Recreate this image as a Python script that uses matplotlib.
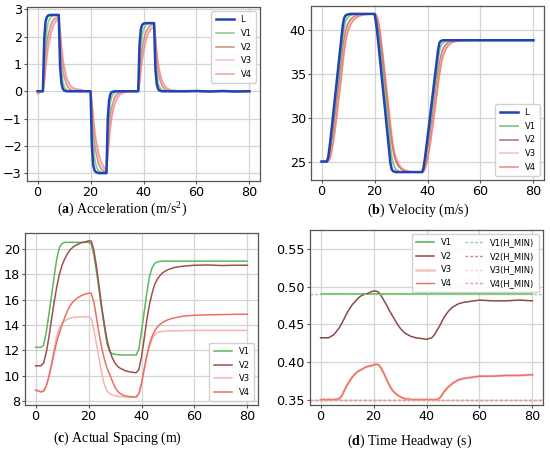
import matplotlib
matplotlib.use("Agg")
import matplotlib.pyplot as plt
from matplotlib.ticker import MultipleLocator

plt.rcParams['font.family'] = ['DejaVu Sans']
plt.rcParams['mathtext.fontset'] = 'custom'
plt.rcParams['mathtext.rm'] = 'Liberation Serif'
plt.rcParams['mathtext.bf'] = 'Liberation Serif:bold'

# ---------------- data: acceleration / velocity time base ----------------
time_av = [0, 1, 2, 2.5, 3, 3.5, 4, 5, 6, 7, 8,
           8.5, 9, 9.5, 10, 11, 12, 13, 14, 15, 16, 18, 20,
           20.5, 21, 21.5, 22, 23, 24, 25, 26,
           26.5, 27, 27.5, 28, 29, 30, 31, 32, 33, 34, 36, 38,
           38.5, 39, 39.5, 40, 41, 42, 43, 44,
           44.5, 45, 45.5, 46, 47, 48, 49, 50, 51, 52, 54, 56, 60, 65, 70, 75, 80]

acc_L = [0, 0, 0, 1.9, 2.55, 2.72, 2.78, 2.8, 2.8, 2.8, 2.8,
         0.9, 0.3, 0.1, 0.03, 0, 0, 0, 0, 0, 0, 0, 0,
         -2.0, -2.7, -2.9, -2.96, -3.0, -3.0, -3.0, -3.0,
         -1.0, -0.33, -0.1, -0.03, 0, 0, 0, 0, 0, 0, 0, 0,
         1.7, 2.27, 2.43, 2.48, 2.5, 2.5, 2.5, 2.5,
         0.8, 0.27, 0.09, 0.03, 0, 0, 0, 0, 0, 0, 0, 0, 0.01, -0.01, 0.01, -0.01, 0]
acc_V1 = [0, 0, 0, 0.7, 1.7, 2.25, 2.52, 2.72, 2.77, 2.79, 2.8,
          1.7, 0.8, 0.38, 0.18, 0.04, 0.01, 0, 0, 0, 0, 0, 0,
          -0.75, -1.8, -2.4, -2.7, -2.92, -2.97, -2.99, -3.0,
          -1.9, -0.9, -0.42, -0.2, -0.05, -0.01, 0, 0, 0, 0, 0, 0,
          0.65, 1.55, 2.02, 2.27, 2.44, 2.48, 2.5, 2.5,
          1.55, 0.72, 0.34, 0.16, 0.04, 0.01, 0, 0, 0, 0, 0, 0, 0, 0, 0, 0, 0]
acc_V2 = [0, 0, 0, 0.45, 1.15, 1.7, 2.05, 2.45, 2.63, 2.7, 2.73,
          2.1, 1.35, 0.85, 0.55, 0.22, 0.09, 0.04, 0.02, 0.01, 0, 0, 0,
          -0.5, -1.25, -1.8, -2.2, -2.65, -2.85, -2.93, -2.96,
          -2.3, -1.45, -0.92, -0.6, -0.24, -0.1, -0.04, -0.02, 0, 0, 0, 0,
          0.42, 1.05, 1.5, 1.82, 2.2, 2.37, 2.44, 2.46,
          1.9, 1.2, 0.78, 0.5, 0.2, 0.08, 0.03, 0.01, 0, 0, 0, 0, 0, 0, 0, 0, 0]
acc_V3 = [-0.05, 0, 0, 0.35, 0.95, 1.45, 1.8, 2.3, 2.55, 2.66, 2.7,
          2.2, 1.55, 1.08, 0.75, 0.36, 0.17, 0.09, 0.06, 0.05, 0.04, 0.01, 0,
          -0.4, -1.05, -1.55, -1.95, -2.45, -2.72, -2.86, -2.93,
          -2.4, -1.7, -1.15, -0.8, -0.38, -0.18, -0.08, -0.04, -0.02, 0, 0, 0,
          0.33, 0.88, 1.3, 1.62, 2.05, 2.28, 2.39, 2.43,
          1.98, 1.38, 0.95, 0.65, 0.3, 0.14, 0.07, 0.04, 0.02, 0.01, 0, 0, 0, 0, 0, 0, 0]
acc_V4 = [-0.1, -0.03, 0, 0.28, 0.78, 1.22, 1.58, 2.1, 2.42, 2.58, 2.65,
          2.25, 1.7, 1.25, 0.92, 0.5, 0.27, 0.15, 0.1, 0.08, 0.07, 0.02, 0,
          -0.33, -0.9, -1.35, -1.72, -2.25, -2.57, -2.77, -2.9,
          -2.45, -1.85, -1.35, -0.98, -0.52, -0.27, -0.14, -0.07, -0.04, -0.02, 0, 0,
          0.27, 0.74, 1.12, 1.45, 1.88, 2.15, 2.3, 2.37,
          2.0, 1.48, 1.08, 0.78, 0.4, 0.2, 0.11, 0.06, 0.04, 0.03, 0.01, 0, 0, 0, 0, 0, 0]

vel_L = [25, 25, 25, 25.5, 26.6, 27.9, 29.3, 32.1, 34.9, 37.7, 40.5,
         41.3, 41.6, 41.7, 41.75, 41.8, 41.8, 41.8, 41.8, 41.8, 41.8, 41.8, 41.8,
         40.9, 39.7, 38.3, 36.8, 33.8, 30.8, 27.8, 24.8,
         24.1, 23.9, 23.85, 23.8, 23.8, 23.8, 23.8, 23.8, 23.8, 23.8, 23.8, 23.8,
         24.3, 25.3, 26.5, 27.7, 30.2, 32.7, 35.2, 37.7,
         38.5, 38.7, 38.77, 38.8, 38.8, 38.8, 38.8, 38.8, 38.8, 38.8, 38.8, 38.8, 38.8, 38.8, 38.8, 38.8, 38.8]
vel_V1 = [25, 25, 25, 25.2, 25.8, 26.8, 28.0, 30.7, 33.5, 36.3, 39.1,
          40.2, 40.9, 41.2, 41.45, 41.65, 41.75, 41.8, 41.8, 41.8, 41.8, 41.8, 41.8,
          41.6, 40.9, 39.8, 38.5, 35.7, 32.8, 29.8, 26.8,
          25.5, 24.8, 24.4, 24.1, 23.9, 23.85, 23.8, 23.8, 23.8, 23.8, 23.8, 23.8,
          24.0, 24.6, 25.5, 26.6, 29.0, 31.5, 34.0, 36.5,
          37.5, 38.1, 38.4, 38.55, 38.72, 38.78, 38.8, 38.8, 38.8, 38.8, 38.8, 38.8, 38.8, 38.8, 38.8, 38.8, 38.8]
vel_V2 = [25, 25, 25, 25.1, 25.5, 26.2, 27.2, 29.5, 32.1, 34.8, 37.5,
          38.8, 39.7, 40.3, 40.7, 41.2, 41.45, 41.6, 41.7, 41.75, 41.78, 41.8, 41.8,
          41.7, 41.3, 40.5, 39.5, 37.0, 34.3, 31.5, 28.6,
          27.3, 26.3, 25.6, 25.1, 24.5, 24.2, 24.0, 23.9, 23.85, 23.82, 23.8, 23.8,
          23.9, 24.3, 25.0, 25.8, 27.9, 30.2, 32.6, 35.0,
          36.1, 36.9, 37.5, 37.9, 38.35, 38.6, 38.7, 38.75, 38.78, 38.8, 38.8, 38.8, 38.8, 38.8, 38.8, 38.8, 38.8]
vel_V3 = [25, 25, 25, 25.05, 25.4, 25.9, 26.8, 28.9, 31.4, 34.0, 36.7,
          38.0, 39.0, 39.8, 40.3, 40.95, 41.3, 41.5, 41.62, 41.7, 41.75, 41.8, 41.8,
          41.72, 41.4, 40.8, 39.9, 37.6, 35.0, 32.3, 29.4,
          28.1, 27.0, 26.2, 25.6, 24.9, 24.4, 24.15, 24.0, 23.9, 23.85, 23.8, 23.8,
          23.88, 24.2, 24.8, 25.5, 27.4, 29.6, 32.0, 34.3,
          35.4, 36.3, 37.0, 37.5, 38.1, 38.45, 38.6, 38.7, 38.74, 38.77, 38.8, 38.8, 38.8, 38.8, 38.8, 38.8, 38.8]
vel_V4 = [25, 25, 25, 25.03, 25.25, 25.7, 26.4, 28.3, 30.7, 33.3, 36.0,
          37.3, 38.4, 39.2, 39.8, 40.6, 41.05, 41.35, 41.52, 41.62, 41.7, 41.77, 41.8,
          41.75, 41.45, 40.8, 39.9, 37.4, 34.6, 31.8, 29.0,
          27.7, 26.7, 25.9, 25.3, 24.6, 24.2, 24.0, 23.9, 23.85, 23.82, 23.8, 23.8,
          23.86, 24.1, 24.6, 25.2, 26.9, 29.0, 31.3, 33.6,
          34.8, 35.7, 36.5, 37.1, 37.8, 38.25, 38.5, 38.62, 38.7, 38.74, 38.78, 38.8, 38.8, 38.8, 38.8, 38.8, 38.8]

# ---------------- data: spacing ----------------
time_sp = [0, 2, 3, 4, 5, 6, 7, 8, 9, 10,
           11, 12, 13, 14, 15, 16, 17, 18, 19, 20,
           21, 22, 23, 24, 25, 26, 27, 28, 29, 30,
           31, 32, 33, 34, 36, 38,
           39, 40, 41, 42, 43, 44, 45, 46, 47, 48,
           49, 50, 52, 54, 56, 58, 60, 65, 70, 75, 80]
sp_V1 = [12.25, 12.25, 12.4, 13.4, 14.8, 16.3, 17.8, 19.2, 20.1, 20.4,
         20.5, 20.5, 20.5, 20.5, 20.5, 20.5, 20.5, 20.5, 20.5, 20.5,
         20.4, 19.5, 18.2, 16.7, 15.2, 13.8, 12.5, 11.9, 11.75, 11.7,
         11.67, 11.65, 11.65, 11.65, 11.65, 11.65,
         12.1, 13.5, 15.0, 16.5, 17.8, 18.5, 18.85, 18.97, 19.0, 19.02,
         19.02, 19.02, 19.02, 19.02, 19.02, 19.02, 19.02, 19.02, 19.02, 19.02, 19.02]
sp_V2 = [10.8, 10.8, 11.0, 11.8, 13.0, 14.4, 15.8, 17.0, 18.0, 18.7,
         19.2, 19.6, 19.9, 20.1, 20.25, 20.35, 20.45, 20.5, 20.55, 20.62,
         20.6, 19.9, 18.6, 17.0, 15.4, 14.0, 12.8, 12.0, 11.4, 11.0,
         10.75, 10.6, 10.5, 10.4, 10.3, 10.25,
         10.5, 11.5, 12.9, 14.4, 15.6, 16.5, 17.2, 17.6, 17.9, 18.1,
         18.25, 18.35, 18.5, 18.58, 18.63, 18.67, 18.7, 18.72, 18.68, 18.7, 18.7]
sp_V3 = [8.85, 8.75, 8.8, 9.2, 10.0, 11.0, 12.1, 13.1, 13.8, 14.15,
         14.3, 14.45, 14.55, 14.6, 14.62, 14.63, 14.64, 14.65, 14.65, 14.65,
         14.55, 13.6, 12.5, 11.3, 10.2, 9.3, 8.8, 8.6, 8.5, 8.45,
         8.4, 8.37, 8.35, 8.35, 8.33, 8.33,
         8.6, 9.4, 10.5, 11.5, 12.3, 12.9, 13.25, 13.42, 13.47, 13.5,
         13.52, 13.53, 13.55, 13.55, 13.56, 13.57, 13.58, 13.58, 13.58, 13.58, 13.58]
sp_V4 = [8.9, 8.75, 8.8, 9.2, 9.9, 10.8, 11.8, 12.7, 13.4, 14.0,
         14.6, 15.1, 15.5, 15.8, 16.0, 16.15, 16.28, 16.38, 16.45, 16.5,
         16.5, 15.8, 14.6, 13.3, 12.2, 11.3, 10.6, 10.1, 9.6, 9.1,
         8.8, 8.6, 8.5, 8.43, 8.37, 8.35,
         8.6, 9.4, 10.5, 11.6, 12.5, 13.1, 13.55, 13.85, 14.05, 14.2,
         14.32, 14.42, 14.55, 14.63, 14.7, 14.74, 14.77, 14.8, 14.82, 14.84, 14.85]

# ---------------- data: time headway ----------------
time_hw = [0, 3, 5, 7, 8, 9, 10, 11, 12, 13,
           14, 15, 16, 17, 18, 19, 20, 21, 22, 23,
           24, 25, 26, 27, 28, 29, 30, 31, 32, 33,
           34, 36, 38, 40, 42, 43, 44, 45, 46, 47,
           48, 49, 50, 52, 54, 56, 58, 60, 65, 70, 75, 80]
hw_V1 = [0.49] * 10 + [0.49] * 10 + [0.49] * 10 + [0.49] * 10 + [0.49] * 12
hw_V2 = [0.432, 0.432, 0.436, 0.445, 0.451, 0.458, 0.465, 0.471, 0.476, 0.48,
         0.484, 0.487, 0.489, 0.49, 0.491, 0.493, 0.494, 0.494, 0.492, 0.487,
         0.481, 0.475, 0.468, 0.462, 0.456, 0.45, 0.445, 0.441, 0.438, 0.436,
         0.434, 0.432, 0.431, 0.43, 0.432, 0.436, 0.442, 0.448, 0.455, 0.461,
         0.466, 0.47, 0.473, 0.477, 0.479, 0.48, 0.481, 0.482, 0.481, 0.481, 0.482, 0.481]
hw_V3 = [0.35, 0.35, 0.35, 0.351, 0.355, 0.362, 0.369, 0.375, 0.38, 0.384,
         0.387, 0.389, 0.391, 0.393, 0.394, 0.395, 0.396, 0.397, 0.396, 0.391,
         0.384, 0.376, 0.369, 0.363, 0.359, 0.356, 0.354, 0.352, 0.351, 0.351,
         0.35, 0.35, 0.35, 0.35, 0.35, 0.35, 0.35, 0.352, 0.357, 0.362,
         0.366, 0.369, 0.372, 0.376, 0.378, 0.379, 0.38, 0.381, 0.381, 0.382, 0.382, 0.383]
hw_V4 = [0.35, 0.35, 0.35, 0.351, 0.355, 0.362, 0.369, 0.375, 0.38, 0.384,
         0.387, 0.389, 0.391, 0.393, 0.394, 0.395, 0.396, 0.397, 0.396, 0.391,
         0.384, 0.376, 0.369, 0.363, 0.359, 0.356, 0.354, 0.352, 0.351, 0.351,
         0.35, 0.35, 0.35, 0.35, 0.35, 0.35, 0.35, 0.352, 0.357, 0.362,
         0.366, 0.369, 0.372, 0.376, 0.378, 0.379, 0.38, 0.381, 0.381, 0.382, 0.382, 0.383]
h_min = {'V1': 0.49, 'V2': 0.35, 'V3': 0.35, 'V4': 0.35}

captions = [r"($\mathbf{a}$) Acceleration (m/s$^2$)",
            r"($\mathbf{b}$) Velocity (m/s)",
            r"($\mathbf{c}$) Actual Spacing (m)",
            r"($\mathbf{d}$) Time Headway (s)"]

# ---------------- styling ----------------
C_L = '#2043b5'
C_V = {'V1': '#5cb85c', 'V2': '#a0504c', 'V3': '#f7b4ab', 'V4': '#ea6f64'}

W, H = 550, 450
fig = plt.figure(figsize=(W / 100, H / 100), dpi=100)


def px_axes(l, t, r, b):
    return fig.add_axes([l / W, 1 - b / H, (r - l) / W, (b - t) / H])


def style(ax, ystep):
    ax.grid(True, color='#d4d4d4', lw=0.9)
    ax.set_axisbelow(True)
    for s in ax.spines.values():
        s.set_color('#555555')
        s.set_linewidth(0.9)
    ax.tick_params(labelsize=9.2, length=2.5, width=0.8, color='#555555', pad=1.2)
    ax.set_xticks([0, 20, 40, 60, 80])
    ax.yaxis.set_major_locator(MultipleLocator(ystep))


leg_kw = dict(fontsize=6, framealpha=0.9, edgecolor='#cccccc', fancybox=True,
              handlelength=2.2, borderpad=0.5, labelspacing=0.55)

# (a)
ax = px_axes(27, 7, 260, 181)
style(ax, 1)
ax.plot(time_av, acc_L, color=C_L, lw=1.8, label='L', zorder=5)
ax.plot(time_av, acc_V1, color=C_V['V1'], lw=1.2, alpha=0.7, label='V1')
ax.plot(time_av, acc_V2, color=C_V['V2'], lw=1.2, alpha=0.6, label='V2')
ax.plot(time_av, acc_V3, color=C_V['V3'], lw=1.2, alpha=0.7, label='V3')
ax.plot(time_av, acc_V4, color=C_V['V4'], lw=1.2, alpha=0.6, label='V4')
ax.legend(loc='upper right', **leg_kw)

# (b)
ax = px_axes(311, 6, 544, 180)
style(ax, 5)
ax.plot(time_av, vel_L, color=C_L, lw=1.8, label='L', zorder=5)
ax.plot(time_av, vel_V1, color=C_V['V1'], lw=1.2, alpha=0.8, label='V1')
ax.plot(time_av, vel_V2, color=C_V['V2'], lw=1.2, alpha=0.75, label='V2')
ax.plot(time_av, vel_V3, color=C_V['V3'], lw=1.2, alpha=0.8, label='V3')
ax.plot(time_av, vel_V4, color=C_V['V4'], lw=1.2, alpha=0.75, label='V4')
ax.legend(loc='lower right', **leg_kw)

# (c)
ax = px_axes(25, 233, 258, 405)
style(ax, 2)
ax.plot(time_sp, sp_V1, color=C_V['V1'], lw=1.1, label='V1')
ax.plot(time_sp, sp_V2, color=C_V['V2'], lw=1.1, label='V2')
ax.plot(time_sp, sp_V3, color=C_V['V3'], lw=1.1, label='V3')
ax.plot(time_sp, sp_V4, color=C_V['V4'], lw=1.1, label='V4')
ax.legend(loc='lower right', **leg_kw)

# (d)
ax = px_axes(310, 230, 543, 405)
style(ax, 0.05)
ax.plot(time_hw, hw_V1, color=C_V['V1'], lw=1.2, label='V1')
ax.plot(time_hw, hw_V2, color='#8a4a46', lw=1.1, label='V2')
ax.plot(time_hw, hw_V3, color=C_V['V3'], lw=1.8, alpha=0.8, label='V3')
ax.plot(time_hw, hw_V4, color=C_V['V4'], lw=1.0, label='V4')
hcols = {'V1': '#8fd08f', 'V2': '#c98a86', 'V3': '#fad2cc', 'V4': '#f19a92'}
for k, v in h_min.items():
    ax.axhline(v, color=hcols[k], lw=1.0, ls=(0, (2, 1.5)), label=f'{k}(H_MIN)')
ax.set_ylim(top=0.575)
ax.legend(loc='upper right', ncol=2, columnspacing=1.6, **leg_kw)

# captions (baseline positions in pixels)
cap_pos = [(122, 213), (418, 214), (117, 442), (410, 445)]
for (x, y), txt in zip(cap_pos, captions):
    fig.text(x / W, 1 - y / H, txt, ha='center', va='baseline',
             family='Liberation Serif', fontsize=10)

fig.savefig('out.png', dpi=100)
